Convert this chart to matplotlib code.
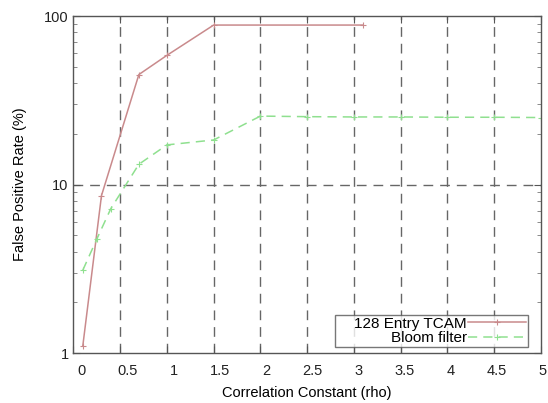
import matplotlib
matplotlib.use("Agg")
import matplotlib.pyplot as plt
import matplotlib.transforms as mtransforms
from matplotlib.ticker import FixedLocator, LogLocator, NullFormatter

# values
tcam_rho = [0.1, 0.3, 0.7, 1.0, 1.5, 3.1]
tcam_fpr = [1.1, 8.6, 45.0, 58.5, 88.5, 88.5]

bloom_rho = [0.1, 0.25, 0.4, 0.7, 1.0, 1.5, 2.0, 2.5, 3.0, 3.5, 4.0, 4.5, 5.0]
bloom_fpr = [3.1, 4.75, 7.2, 13.2, 17.2, 18.4, 25.5, 25.3, 25.2, 25.2, 25.1, 25.1, 25.0]

x_ticks = [0, 0.5, 1, 1.5, 2, 2.5, 3, 3.5, 4, 4.5, 5]
x_tick_labels = ["0", "0.5", "1", "1.5", "2", "2.5", "3", "3.5", "4", "4.5", "5"]
y_ticks = [1, 10, 100]
y_tick_labels = ["1", "10", "100"]

plt.rcParams["font.family"] = ["Liberation Sans", "DejaVu Sans"]

fig = plt.figure(figsize=(5.48, 4.03), dpi=100)
ax = fig.add_axes([0.134, 0.124, 0.853, 0.836])

ax.set_yscale("log")
ax.set_xlim(0, 5)
ax.set_ylim(1, 100)

ax.plot(tcam_rho, tcam_fpr, color="#c98a8c", linewidth=1.1,
        marker="+", markersize=4, markeredgewidth=0.8, label="128 Entry TCAM")
ax.plot(bloom_rho, bloom_fpr, color="#8fe08f", linewidth=1.1, linestyle=(0, (6, 4)),
        marker="+", markersize=4, markeredgewidth=0.8, label="Bloom filter")

# gnuplot-like grid: vertical at each major x tick, horizontal at 10
for xv in x_ticks[1:-1]:
    ax.axvline(xv, color="#666666", linewidth=1.0, linestyle=(0, (7, 5)), zorder=0.5)
ax.axhline(10, color="#666666", linewidth=1.0, linestyle=(0, (7, 5)), zorder=0.5)

ax.xaxis.set_major_locator(FixedLocator(x_ticks))
ax.set_xticklabels(x_tick_labels)
ax.yaxis.set_major_locator(FixedLocator(y_ticks))
ax.set_yticklabels(y_tick_labels)
ax.yaxis.set_minor_locator(LogLocator(base=10, subs=range(2, 10)))
ax.yaxis.set_minor_formatter(NullFormatter())

ax.tick_params(which="both", direction="in", top=True, right=True,
               labelsize=10.5, colors="#222222")
ax.tick_params(which="major", length=5, width=0.8, color="#555555")
ax.tick_params(which="minor", length=3, width=0.6, color="#777777")
ax.tick_params(axis="x", pad=8)

# the x labels in the reference sit a few pixels right of their ticks
for i, lab in enumerate(ax.get_xticklabels()):
    dx = (8 - 6 * i / 10) / 100
    lab.set_transform(lab.get_transform() + mtransforms.ScaledTranslation(dx, 0, fig.dpi_scale_trans))

for sp in ax.spines.values():
    sp.set_color("#555555")
    sp.set_linewidth(1.0)

ax.set_xlabel("Correlation Constant (rho)", fontsize=10.5, labelpad=6)
ax.set_ylabel("False Positive Rate (%)", fontsize=10.5, labelpad=12)

leg = ax.legend(loc="lower right", markerfirst=False, fontsize=11,
                frameon=True, fancybox=False, borderpad=0.1, labelspacing=0.05,
                handlelength=3.8, handletextpad=0.1, borderaxespad=0.4,
                bbox_to_anchor=(0.985, 0.0))
leg.get_frame().set_edgecolor("#555555")
leg.get_frame().set_linewidth(1.0)
for t in leg.get_texts():
    t.set_ha("right")
# gnuplot leaves extra room at the left of the key box
leg.get_texts()[0].set_text("    128 Entry TCAM")

fig.savefig("out.png", dpi=100, facecolor="white")
